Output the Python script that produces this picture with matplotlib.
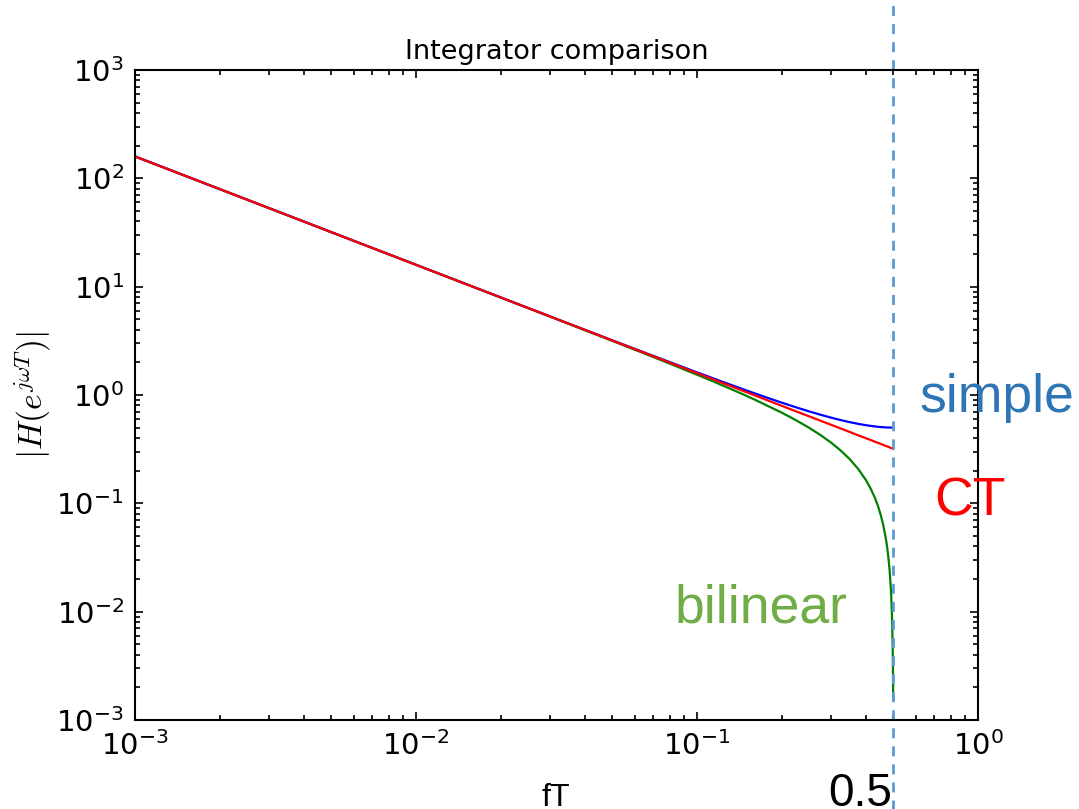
"""Magnitude response of three discrete-time integrators vs. the continuous one."""

import matplotlib
matplotlib.use("Agg")
import matplotlib.pyplot as plt


# ── data ──────────────────────────────────────────────────────────────────

# normalised frequency fT
freq = [0.001, 0.002, 0.005, 0.01, 0.02, 0.03, 0.05, 0.065, 0.08, 0.1,
        0.115, 0.13, 0.145, 0.16, 0.18, 0.2, 0.225, 0.25, 0.275, 0.3,
        0.325, 0.35, 0.375, 0.4, 0.415, 0.43, 0.44, 0.45, 0.46, 0.47,
        0.475, 0.48, 0.485, 0.49, 0.4925, 0.495, 0.497, 0.498, 0.499]

# |H| for each integrator
mag_ct = [159.2, 79.6, 31.8, 15.9, 7.96, 5.305, 3.18, 2.449, 1.99, 1.59,
          1.384, 1.224, 1.098, 0.995, 0.884, 0.796, 0.707, 0.637, 0.579, 0.531,
          0.490, 0.455, 0.424, 0.398, 0.384, 0.370, 0.362, 0.354, 0.346, 0.339,
          0.335, 0.332, 0.328, 0.325, 0.323, 0.322, 0.320, 0.320, 0.319]
mag_simple = [159.2, 79.6, 31.83, 15.92, 7.963, 5.313, 3.196, 2.466, 2.011, 1.618,
              1.4145, 1.259, 1.1365, 1.038, 0.9331, 0.8507, 0.7699, 0.7071, 0.6575,
              0.6180, 0.5864, 0.5612, 0.5412, 0.5257, 0.5184, 0.5123, 0.5090,
              0.5062, 0.5040, 0.5022, 0.5015, 0.5010, 0.5006, 0.5002, 0.5000,
              0.5000, 0.5000, 0.5000, 0.5000]
mag_bilinear = [159.15, 79.58, 31.83, 15.91, 7.947, 5.289, 3.157, 2.414, 1.948,
                1.539, 1.3244, 1.1554, 1.0206, 0.9095, 0.7848, 0.6882, 0.5854,
                0.5, 0.4270, 0.3633, 0.3064, 0.2548, 0.2071, 0.1625, 0.1368,
                0.1118, 0.09538, 0.0792, 0.06316, 0.04726, 0.03935, 0.03146,
                0.02358, 0.01571, 0.01178, 0.007855, 0.004713, 0.003142, 0.001571]

nyquist = 0.5


# ── style ─────────────────────────────────────────────────────────────────

plt.rcParams["font.family"] = "DejaVu Sans"
plt.rcParams["mathtext.fontset"] = "cm"
plt.rcParams["axes.linewidth"] = 1.5
ANNOT_FONT = "Liberation Sans"


# ── plot ──────────────────────────────────────────────────────────────────

fig = plt.figure(figsize=(10.79, 8.09), dpi=100, facecolor="white")
ax = fig.add_axes([0.1251, 0.110, 0.7813, 0.8035])

ax.loglog(freq, mag_bilinear, color=(0, 0.5, 0), linewidth=1.6)
ax.loglog(freq, mag_simple, color=(0, 0, 1), linewidth=1.6)
ax.loglog(freq, mag_ct, color=(1, 0, 0), linewidth=1.6)

ax.set_xlim(1e-3, 1e0)
ax.set_ylim(1e-3, 1e3)

ax.tick_params(which="both", direction="in", top=True, right=True,
               labelsize=21, pad=8, width=1.2)
ax.tick_params(which="major", length=6)
ax.tick_params(which="minor", length=3.5)

ax.set_title("Integrator comparison", fontsize=19.5, pad=8)
ax.set_ylabel(r"$|H(e^{j\omega T})|$", fontsize=24, labelpad=2.5)

# Nyquist marker running the full height of the figure
ax.axvline(nyquist, ymin=-0.14, ymax=1.11, clip_on=False, color="#5b9bd5",
           linewidth=2, dashes=(3.6, 2.9))

fig.text(0.8526, 0.4907, "simple", color="#2e75b6", fontsize=38.5,
         family=ANNOT_FONT, va="baseline")
fig.text(0.8656, 0.3634, "CT", color="#ff0000", fontsize=38.5,
         family=ANNOT_FONT, va="baseline")
fig.text(0.6256, 0.2311, "bilinear", color="#70ad47", fontsize=38.5,
         family=ANNOT_FONT, va="baseline")
fig.text(0.7674, 0.0037, "0.5", color="black", fontsize=33,
         family=ANNOT_FONT, va="baseline")
fig.text(0.5015, 0.0037, "fT", color="black", fontsize=23,
         family=ANNOT_FONT, va="baseline")

fig.savefig("out.png", dpi=100, facecolor="white")
